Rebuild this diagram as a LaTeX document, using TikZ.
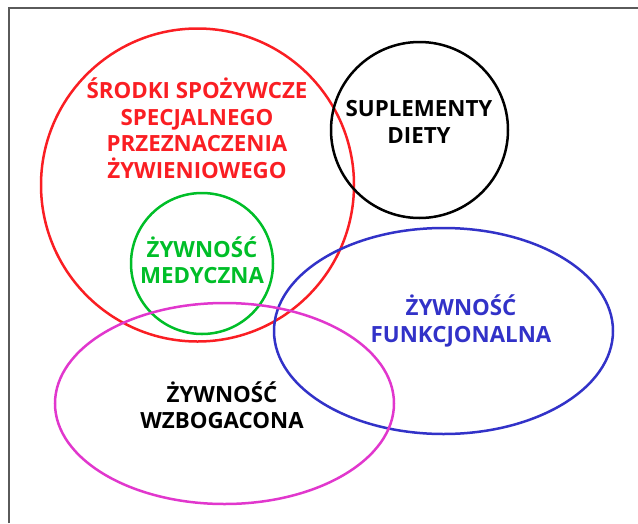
\documentclass[tikz,border=0pt]{standalone}
\usepackage{fontspec}
\setmainfont{Open Sans}
\usetikzlibrary{shapes.geometric}
\definecolor{cred}{RGB}{250,30,35}
\definecolor{cgreen}{RGB}{0,190,40}
\definecolor{cblue}{RGB}{50,50,200}
\definecolor{cmag}{RGB}{225,55,205}
\definecolor{cframe}{RGB}{90,90,90}
\tikzset{
  ring/.style={ellipse, draw, line width=2.5pt, inner sep=0pt},
  lbl/.style={align=center, inner sep=0pt, font=\bfseries\fontsize{22.3}{26.5}\selectfont},
}
\begin{document}
\begin{tikzpicture}[x=1pt,y=-1pt]
\useasboundingbox (0,0) rectangle (638,523);
\coordinate (ftl) at (9,8);
\coordinate (ftr) at (638,8);
\coordinate (fbl) at (9,523);
\draw[cframe, line width=1.3pt] (fbl) -- (ftl) -- (ftr);
\node[ring, draw=cred, minimum width=313, minimum height=313] (fsm) at (197.5,185) {};
\node[ring, draw=black, minimum width=177, minimum height=176] (sup) at (419.5,130) {};
\node[ring, draw=cgreen, minimum width=142, minimum height=141] (med) at (202,263.5) {};
\node[ring, draw=cblue, minimum width=339, minimum height=206] (fun) at (443.5,331) {};
\node[ring, draw=cmag, minimum width=339, minimum height=201] (wzb) at (224.5,403.5) {};
\node[lbl, text=cred] (tfsm) at (197,128) {ŚRODKI SPOŻYWCZE\\SPECJALNEGO\\PRZEZNACZENIA\\ŻYWIENIOWEGO};
\node[lbl, text=black] (tsup) at (419,122) {SUPLEMENTY\\DIETY};
\node[lbl, text=cgreen] (tmed) at (202,260) {ŻYWNOŚĆ\\MEDYCZNA};
\node[lbl, text=cblue] (tfun) at (461,321) {ŻYWNOŚĆ\\FUNKCJONALNA};
\node[lbl, text=black] (twzb) at (222,405) {ŻYWNOŚĆ\\WZBOGACONA};
\end{tikzpicture}
\end{document}
